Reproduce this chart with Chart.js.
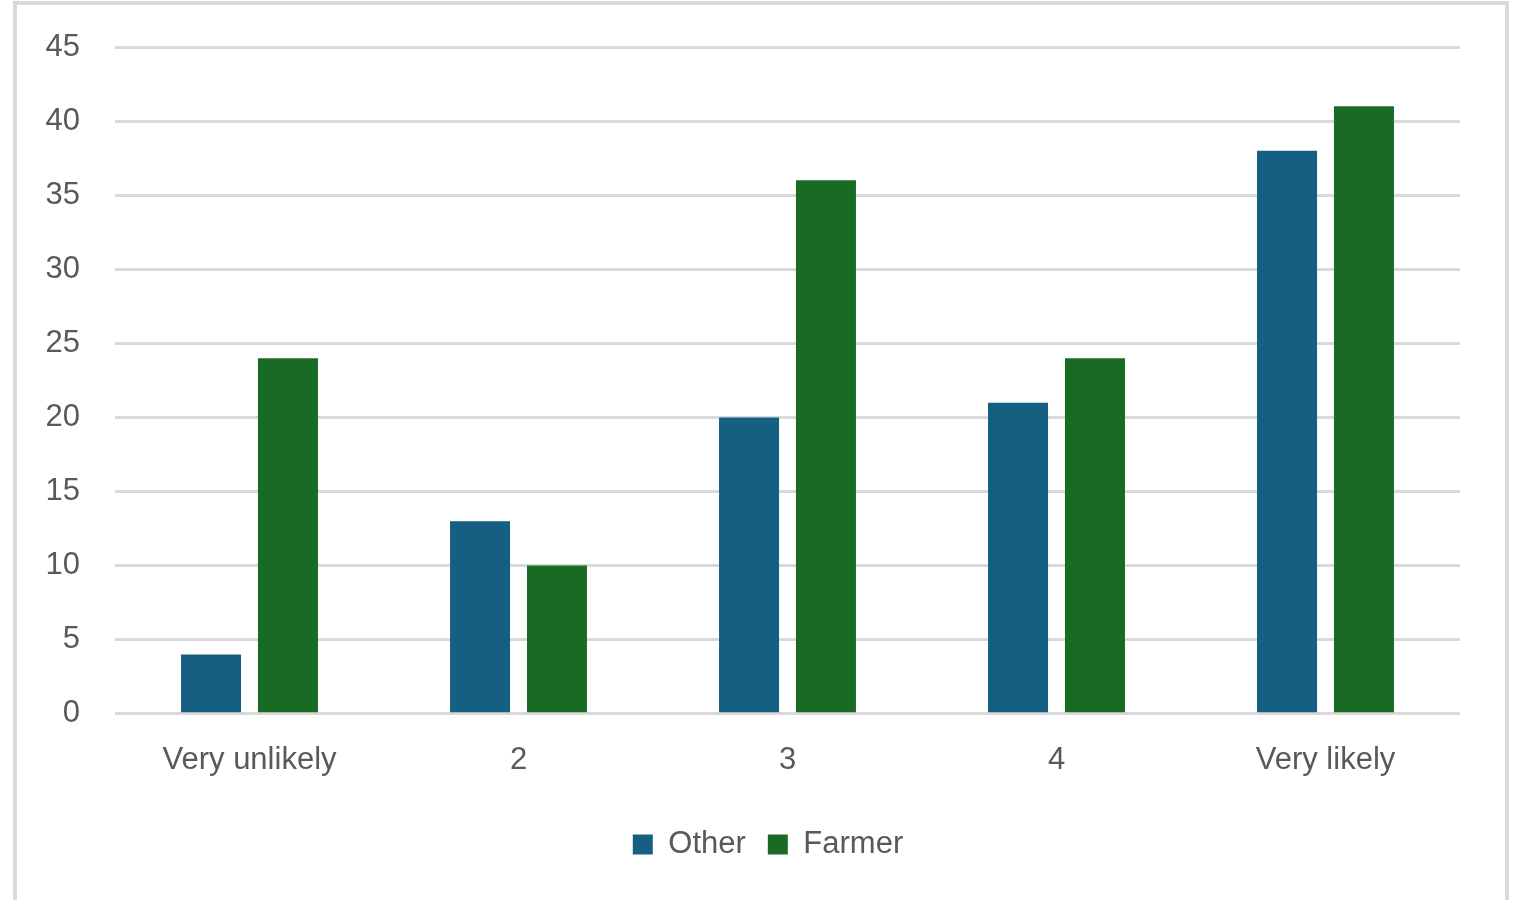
<!DOCTYPE html>
<html>
<head>
<meta charset="utf-8">
<script src="https://cdn.jsdelivr.net/npm/chart.js@4/dist/chart.umd.min.js"></script>
<style>
  html, body { margin: 0; padding: 0; background: #ffffff; overflow: hidden; }
  #frame {
    position: absolute; left: 13px; top: 1px; width: 1488px; height: 1000px;
    border: 4px solid #d9d9d9; border-bottom: none; background: #ffffff;
  }
  #wrap { position: absolute; left: 0; top: 0; width: 1516px; height: 900px; }
</style>
</head>
<body>
<div id="frame"></div>
<div id="wrap"><canvas id="chart" width="1516" height="900"></canvas></div>
<script>
const categories = ['Very unlikely', '2', '3', '4', 'Very likely'];
const otherValues = [4, 13, 20, 21, 38];
const farmerValues = [24, 10, 36, 24, 41];
const seriesNames = ['Other', 'Farmer'];

const textColor = '#595959';
const gridColor = '#d9d9d9';
const fontSpec = { family: '"Liberation Sans", Arial, sans-serif', size: 31 };

// Centre the legend under the whole frame rather than under the chart area.
const legendShift = {
  id: 'legendShift',
  afterLayout(chart) {
    const lg = chart.legend;
    if (lg) { lg.left += 38; lg.right += 38; }
  }
};

new Chart(document.getElementById('chart'), {
  type: 'bar',
  data: {
    labels: categories,
    datasets: [
      { label: seriesNames[0], data: otherValues, backgroundColor: '#156082',
        categoryPercentage: 0.572, barPercentage: 0.78 },
      { label: seriesNames[1], data: farmerValues, backgroundColor: '#196b24',
        categoryPercentage: 0.572, barPercentage: 0.78 }
    ]
  },
  plugins: [legendShift],
  options: {
    responsive: false,
    animation: false,
    layout: { padding: { top: 47, right: 56, bottom: 30, left: 0 } },
    plugins: {
      tooltip: { enabled: false },
      legend: {
        position: 'bottom',
        labels: {
          color: textColor, font: fontSpec,
          boxWidth: 20, boxHeight: 20, padding: 22
        }
      }
    },
    scales: {
      x: {
        grid: { display: false, drawTicks: false },
        border: { display: false },
        ticks: { color: textColor, font: fontSpec, padding: 28, maxRotation: 0 }
      },
      y: {
        min: 0, max: 45,
        grid: { color: gridColor, lineWidth: 3, drawTicks: true, tickLength: 35,
                tickColor: 'rgba(0,0,0,0)' },
        border: { display: false },
        ticks: { stepSize: 5, color: textColor, font: fontSpec, padding: 0 },
        afterFit(scale) { scale.width = 115; }
      }
    }
  }
});
</script>
</body>
</html>
